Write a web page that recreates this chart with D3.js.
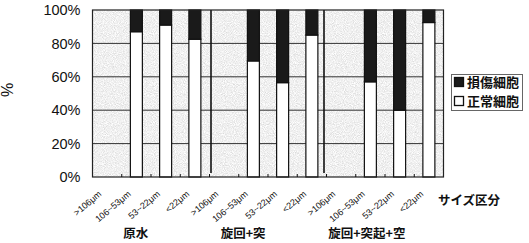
<!DOCTYPE html>
<html><head><meta charset="utf-8">
<script src="https://cdn.jsdelivr.net/npm/d3@7"></script>
<style>body{margin:0;background:#fff}svg{display:block}</style>
</head><body>
<svg id="c" width="529" height="243"></svg>
<script>
// ---- data ----
const categories = [">106μm","106~53μm","53~22μm","<22μm",">106μm","106~53μm","53~22μm","<22μm",">106μm","106~53μm","53~22μm","<22μm"];
const groups = ["原水","旋回+突","旋回+突起+空"];
const normalCells  = [null, 87, 91, 82.5, null, 69.5, 56.5, 85, null, 57, 40, 92.5];   // 正常細胞 %
const damagedCells = [null, 13,  9, 17.5, null, 30.5, 43.5, 15, null, 43, 60,  7.5];   // 損傷細胞 %
const yTickValues = [0, 20, 40, 60, 80, 100];
const legendLabels = ["損傷細胞", "正常細胞"];
const xAxisTitle = "サイズ区分";
const yAxisTitle = "%";

// ---- layout ----
const svg = d3.select("#c");
const L = 92.5, R = 443.5, T = 10, B = 177;
const idx = categories.map((d, i) => i);
const x = d3.scaleBand().domain(idx).range([L, R]).paddingInner(0).paddingOuter(0);
const y = d3.scaleLinear().domain([0, 100]).range([B, T]);
const xc = d3.scaleLinear().domain([0, categories.length - 1]).range([x(0) + x.bandwidth()/2, x(categories.length-1) + x.bandwidth()/2]);
const barW = 12;

// background noise texture
const defs = svg.append("defs");
const f = defs.append("filter").attr("id", "noise")
  .attr("filterUnits", "userSpaceOnUse").attr("x", L).attr("y", T).attr("width", R - L).attr("height", B - T);
f.append("feTurbulence").attr("type", "fractalNoise").attr("baseFrequency", 1.1).attr("numOctaves", 1).attr("seed", 7).attr("result", "t");
f.append("feColorMatrix").attr("in", "t").attr("type", "matrix")
  .attr("values", "0.6 0 0 0 0.57  0.6 0 0 0 0.57  0.6 0 0 0 0.57  0 0 0 0 1");

svg.append("rect").attr("x", L).attr("y", T).attr("width", R - L).attr("height", B - T).attr("fill", "#dcdcdc").attr("filter", "url(#noise)");

// gridlines
svg.append("g").selectAll("line").data(yTickValues.filter(v => v > 0 && v < 100)).join("line")
  .attr("x1", L).attr("x2", R).attr("y1", d => y(d)).attr("y2", d => y(d))
  .attr("stroke", "#333").attr("stroke-width", 1);

// group separators
const groupSize = categories.length / groups.length;
svg.append("g").selectAll("line").data(d3.range(1, groups.length)).join("line")
  .attr("x1", g => x(g * groupSize) + (g === 1 ? 1.5 : -2.5))
  .attr("x2", g => x(g * groupSize) + (g === 1 ? 1.5 : -2.5))
  .attr("y1", T).attr("y2", B - 4)
  .attr("stroke", "#111").attr("stroke-width", 1.6);

// bars
const bars = svg.append("g");
idx.forEach(i => {
  if (normalCells[i] == null) return;
  const cx = x(i) + x.bandwidth() / 2;
  bars.append("rect")
    .attr("x", cx - barW / 2).attr("width", barW)
    .attr("y", y(normalCells[i])).attr("height", B - y(normalCells[i]))
    .attr("fill", "#fff").attr("stroke", "#111").attr("stroke-width", 1.2);
  bars.append("rect")
    .attr("x", cx - barW / 2).attr("width", barW)
    .attr("y", y(normalCells[i] + damagedCells[i])).attr("height", y(normalCells[i]) - y(normalCells[i] + damagedCells[i]))
    .attr("fill", "#1a1a1a").attr("stroke", "#111").attr("stroke-width", 1.2);
});

// plot border
svg.append("rect").attr("x", L).attr("y", T).attr("width", R - L).attr("height", B - T)
  .attr("fill", "none").attr("stroke", "#222").attr("stroke-width", 1.2);

// bottom ticks (category boundaries, inward)
svg.append("g").selectAll("line").data(d3.range(1, categories.length)).join("line")
  .attr("x1", i => x(i)).attr("x2", i => x(i)).attr("y1", B).attr("y2", B - 3)
  .attr("stroke", "#111");

// y axis labels
const yAxis = d3.axisLeft(y).tickValues(yTickValues).tickFormat(d => d + "%").tickSize(0).tickPadding(12);
const ya = svg.append("g").attr("transform", `translate(${L},0)`).call(yAxis);
ya.select(".domain").remove();
ya.selectAll("text").attr("font-family", "Liberation Sans, Arial, sans-serif").attr("font-size", 14.5).attr("fill", "#111");

// y title
svg.append("text").attr("transform", "translate(13,90) rotate(-90)")
  .attr("text-anchor", "middle").attr("font-family", "Liberation Sans, Arial, sans-serif")
  .attr("font-size", 16).attr("fill", "#111").text(yAxisTitle);

// x category labels
svg.append("g").selectAll("text").data(idx).join("text")
  .attr("transform", i => `translate(${x(i) + x.bandwidth()/2 - 5},${B + 18}) rotate(-40)`)
  .attr("text-anchor", "end")
  .attr("font-family", "Liberation Sans, Arial, sans-serif")
  .attr("font-size", 9).attr("fill", "#111")
  .text(i => categories[i]);

// group labels
const groupPos = [0.98, 4.65, 8.88];
svg.append("g").selectAll("text").data(groups).join("text")
  .attr("x", (d, i) => xc(groupPos[i])).attr("y", 238)
  .attr("text-anchor", "middle")
  .attr("font-family", "Noto Sans CJK JP, sans-serif").attr("font-weight", "bold")
  .attr("font-size", 12.5).attr("fill", "#111")
  .text(d => d);

// x axis title
svg.append("text").attr("x", 469).attr("y", 205).attr("text-anchor", "middle")
  .attr("font-family", "Noto Sans CJK JP, sans-serif").attr("font-weight", "bold")
  .attr("font-size", 12.5).attr("fill", "#111").text(xAxisTitle);

// legend
const lg = svg.append("g");
lg.append("rect").attr("x", 451.5).attr("y", 74.5).attr("width", 71).attr("height", 36)
  .attr("fill", "#fff").attr("stroke", "#666").attr("stroke-width", 1);
const swatchFill = ["#1a1a1a", "#fff"];
legendLabels.forEach((lab, k) => {
  const cy = 82 + k * 19;
  lg.append("rect").attr("x", 454.5).attr("y", cy - 4.5).attr("width", 9).attr("height", 9)
    .attr("fill", swatchFill[k]).attr("stroke", "#111").attr("stroke-width", 1.3);
  lg.append("text").attr("x", 467).attr("y", cy + 4.5)
    .attr("font-family", "Noto Sans CJK JP, sans-serif").attr("font-weight", "bold")
    .attr("font-size", 13).attr("fill", "#111").text(lab);
});
</script>
</body></html>
